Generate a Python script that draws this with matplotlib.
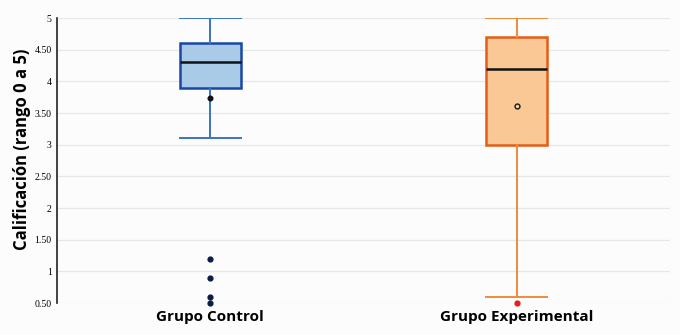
import matplotlib
matplotlib.use("Agg")
import matplotlib.pyplot as plt

categories = ["Grupo Control", "Grupo Experimental"]
# five-number summaries (whisker low, Q1, median, Q3, whisker high), means, outliers
whislo = [3.1, 0.6]
q1 = [3.9, 3.0]
medians = [4.3, 4.2]
q3 = [4.6, 4.7]
whishi = [5.0, 5.0]
means = [3.74, 3.61]
outliers = [[1.2, 0.9, 0.6, 0.5], [0.5]]
yticks = [0.5, 1, 1.5, 2, 2.5, 3, 3.5, 4, 4.5, 5]
ytick_labels = ["0.50", "1", "1.50", "2", "2.50", "3", "3.50", "4", "4.50", "5"]

fill_colors = ["#a9cbe8", "#f9c894"]
edge_colors = ["#1a47a6", "#e45d16"]
whisk_colors = ["#3a74c2", "#ee8b3c"]
flier_colors = ["#0b1d45", "#e0201b"]

fig = plt.figure(figsize=(6.8, 3.35), dpi=100, facecolor="#fcfcfc")
ax = fig.add_axes([0.084, 0.0955, 0.901, 0.8505])
ax.set_facecolor("#fcfcfc")

for i in range(2):
    stats = [dict(whislo=whislo[i], q1=q1[i], med=medians[i], q3=q3[i],
                  whishi=whishi[i], fliers=[], label=categories[i])]
    ax.bxp(stats, positions=[i + 1], widths=0.2, patch_artist=True, showfliers=False,
           boxprops=dict(facecolor=fill_colors[i], edgecolor=edge_colors[i], linewidth=1.8),
           medianprops=dict(color="#111111", linewidth=1.8),
           whiskerprops=dict(color=whisk_colors[i], linewidth=1.4),
           capprops=dict(color=whisk_colors[i], linewidth=1.4),
           capwidths=0.2, zorder=3)
    ax.scatter([i + 1] * len(outliers[i]), outliers[i], s=12, color=flier_colors[i],
               zorder=4, clip_on=False)

ax.scatter([1], [means[0]], s=11, color="#111111", zorder=5)
ax.scatter([2], [means[1]], s=12, facecolor="#f5d9b5", edgecolor="#222222", linewidth=1.1, zorder=5)

ax.set_xlim(0.5, 2.5)
ax.set_ylim(0.5, 5)
ax.set_yticks(yticks)
ax.set_yticklabels(ytick_labels, fontsize=7, family="Liberation Serif")
ax.set_xticks([1, 2])
ax.set_xticklabels(categories, fontsize=11, fontweight="bold", family="Open Sans")
ax.tick_params(axis="y", length=0, pad=4)
ax.tick_params(axis="x", length=0, pad=5)
ax.grid(axis="y", color="#e8e8e8", linewidth=0.9, zorder=0)
ax.set_axisbelow(True)
for s in ["top", "right", "bottom"]:
    ax.spines[s].set_visible(False)
ax.spines["left"].set_color("#222222")
ax.spines["left"].set_linewidth(1.2)
ax.set_ylabel("Calificación (rango 0 a 5)", fontsize=12, fontweight="bold",
              family="Open Sans")
ax.yaxis.set_label_coords(-0.043, 0.54)

fig.savefig("out.png", dpi=100, facecolor=fig.get_facecolor())
